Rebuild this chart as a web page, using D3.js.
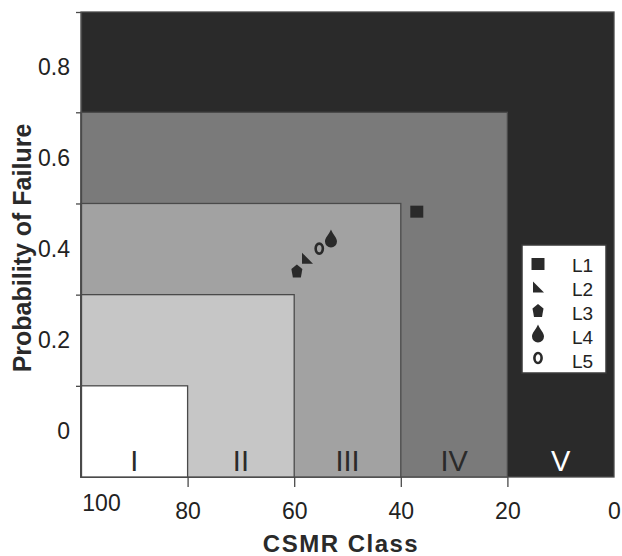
<!DOCTYPE html>
<html>
<head>
<meta charset="utf-8">
<script src="https://cdn.jsdelivr.net/npm/d3@7"></script>
<style>
  body { margin: 0; background: #fff; }
  text { font-family: 'Liberation Sans', Arial, sans-serif; }
</style>
</head>
<body>
<svg id="chart" width="622" height="556"></svg>
<script>
// CSMR classes (each box runs from 100 down to its lower bound)
const classes = ['I', 'II', 'III', 'IV', 'V'];
const classLower = [80, 60, 40, 20, 0];
const classPofMax = [0.1, 0.3, 0.5, 0.7, 0.92];
const classFill = ['#ffffff', '#c6c6c6', '#a2a2a2', '#7a7a7a', '#2a2a2a'];

// series
const series = ['L1', 'L2', 'L3', 'L4', 'L5'];
const csmr = [37.0, 57.6, 59.5, 53.1, 55.3];
const pof = [0.482, 0.379, 0.351, 0.421, 0.401];

const xTicks = [100, 80, 60, 40, 20, 0];
const yTicks = [0, 0.2, 0.4, 0.6, 0.8];

const svg = d3.select('#chart');

const x = d3.scaleLinear().domain([100, 0]).range([81, 614]);
const y = d3.scaleLinear().domain([-0.1, 0.92]).range([477, 12]);

// marker shapes, centred on 0,0
const shapes = {
  L1: 'M-6.5,-6H6.5V6H-6.5Z',
  L2: 'M-5,-6L6,5H-5Z',
  L3: 'M0,-7L5.5,-2.5L4,6H-4L-5.5,-2.5Z',
  L4: 'M0,-10C2,-5 6,-2 6,2A6,6 0 0 1 -6,2C-6,-2 -2,-5 0,-10Z'
};

function drawMarker(g, name) {
  if (name === 'L5') {
    g.append('ellipse').attr('rx', 3.6).attr('ry', 5)
      .attr('fill', 'none').attr('stroke', '#2a2a2a').attr('stroke-width', 2.6);
  } else {
    g.append('path').attr('d', shapes[name]).attr('fill', '#2a2a2a');
  }
}

// class boxes, biggest first
const boxes = d3.range(classes.length).reverse();
svg.selectAll('.box')
  .data(boxes)
  .enter().append('rect')
  .attr('class', 'box')
  .attr('x', x(100))
  .attr('y', i => y(classPofMax[i]))
  .attr('width', i => x(classLower[i]) - x(100))
  .attr('height', i => y(-0.1) - y(classPofMax[i]))
  .attr('fill', i => classFill[i])
  .attr('stroke', '#4a4a4a')
  .attr('stroke-width', 1.3);

// roman numerals
svg.selectAll('.cls')
  .data(classes)
  .enter().append('text')
  .attr('class', 'cls')
  .attr('x', (d, i) => (x(classLower[i]) + x(classLower[i] + 20)) / 2)
  .attr('y', y(-0.1) - 6)
  .attr('text-anchor', 'middle')
  .style('font-size', '29px')
  .attr('fill', (d, i) => i === 4 ? '#ffffff' : '#2a2a2a')
  .text(d => d);

// y axis: tick marks at class boundaries, labels in between
const yLine = svg.append('g')
  .attr('transform', 'translate(' + x(100) + ',0)')
  .call(d3.axisLeft(y).tickValues(classPofMax).tickSize(5).tickSizeOuter(0).tickFormat(''));
yLine.select('.domain').attr('stroke', '#4a4a4a').attr('stroke-width', 1.3);
yLine.selectAll('.tick line').attr('stroke', '#4a4a4a').attr('stroke-width', 1.3);

const yLab = svg.append('g')
  .attr('transform', 'translate(' + x(100) + ',0)')
  .call(d3.axisLeft(y).tickValues(yTicks).tickSize(0).tickPadding(11).tickFormat(d3.format('')));
yLab.select('.domain').remove();
yLab.selectAll('text')
  .attr('fill', '#222')
  .style('font-size', '23px')
  .style('font-family', "'Liberation Sans', Arial, sans-serif");

// x axis
const xLine = svg.append('g')
  .attr('transform', 'translate(0,' + y(-0.1) + ')')
  .call(d3.axisBottom(x).tickValues([80, 60, 40, 20]).tickSize(10).tickFormat(''));
xLine.select('.domain').remove();
xLine.selectAll('.tick line').attr('stroke', '#4a4a4a').attr('stroke-width', 1.3);

const xLab = svg.append('g')
  .attr('transform', 'translate(0,' + y(-0.1) + ')')
  .call(d3.axisBottom(x).tickValues(xTicks).tickSize(0).tickPadding(26));
xLab.select('.domain').remove();
xLab.selectAll('text')
  .attr('fill', '#222')
  .style('font-size', '23px')
  .style('font-family', "'Liberation Sans', Arial, sans-serif");
// the "100" label sits inward and a little higher in the original
xLab.selectAll('.tick').filter(d => d === 100).select('text')
  .attr('dx', 20).attr('dy', '0.36em');

// axis titles
svg.append('text')
  .attr('x', 341)
  .attr('y', 552)
  .attr('text-anchor', 'middle')
  .style('font-size', '24px')
  .style('font-weight', 'bold')
  .attr('fill', '#2a2a2a')
  .attr('letter-spacing', 1.5)
  .text('CSMR Class');

svg.append('text')
  .attr('transform', 'translate(31,248) rotate(-90)')
  .attr('text-anchor', 'middle')
  .style('font-size', '25px')
  .style('font-weight', 'bold')
  .attr('fill', '#2a2a2a')
  .text('Probability of Failure');

// points
svg.selectAll('.pt')
  .data(series)
  .enter().append('g')
  .attr('class', 'pt')
  .attr('transform', (d, i) => 'translate(' + x(csmr[i]) + ',' + y(pof[i]) + ')')
  .each(function (d) { drawMarker(d3.select(this), d); });

// legend
const legend = svg.append('g').attr('transform', 'translate(522,245)');
legend.append('rect')
  .attr('width', 84).attr('height', 128)
  .attr('fill', '#ffffff').attr('stroke', '#3a3a3a').attr('stroke-width', 1.5);

const item = legend.selectAll('.item')
  .data(series)
  .enter().append('g')
  .attr('class', 'item');

item.append('g')
  .attr('transform', (d, i) => 'translate(16,' + (19 + i * 23.5) + ')')
  .each(function (d) { drawMarker(d3.select(this), d); });

item.append('text')
  .attr('x', 50)
  .attr('y', (d, i) => 20 + i * 24)
  .attr('dy', '0.35em')
  .style('font-size', '19px')
  .attr('fill', '#222')
  .text(d => d);
</script>
</body>
</html>
